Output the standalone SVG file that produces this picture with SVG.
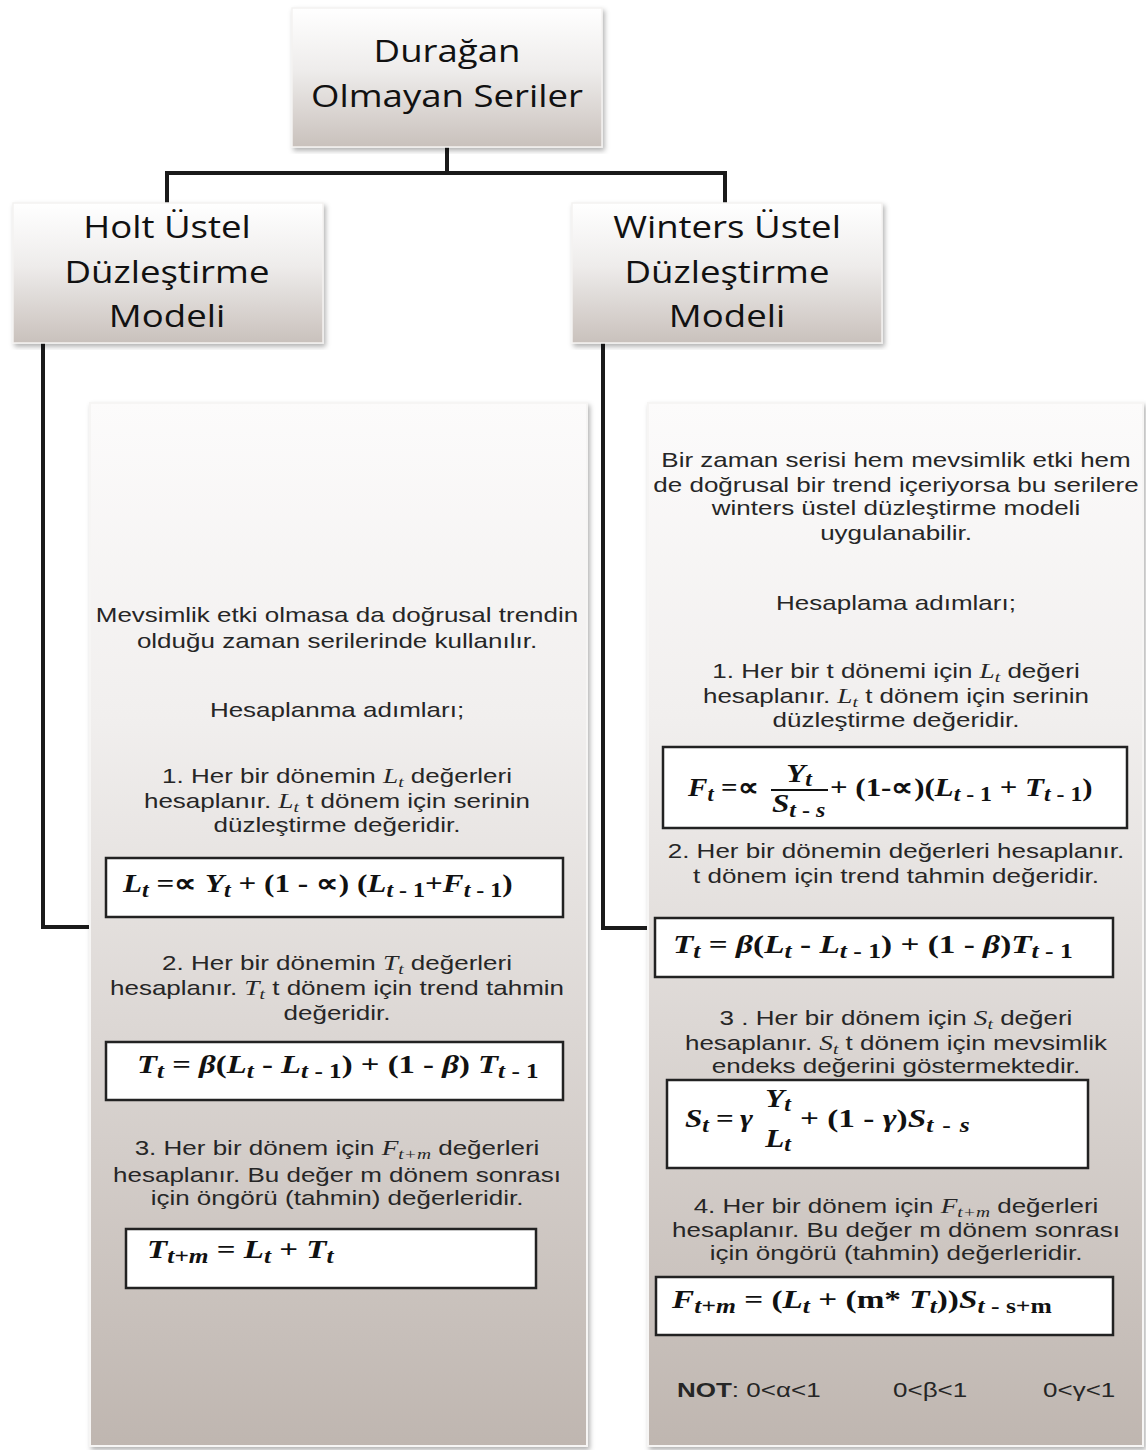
<svg xmlns="http://www.w3.org/2000/svg" width="1146" height="1450" viewBox="0 0 1146 1450">
<defs>
<linearGradient id="gBox" x1="0" y1="0" x2="0" y2="1">
<stop offset="0" stop-color="#ffffff"/>
<stop offset="0.45" stop-color="#eeeceb"/>
<stop offset="1" stop-color="#c9c1bc"/>
</linearGradient>
<linearGradient id="gPanel" x1="0" y1="0" x2="0" y2="1">
<stop offset="0" stop-color="#fcfbfb"/>
<stop offset="0.3" stop-color="#f1efee"/>
<stop offset="0.6" stop-color="#dcd7d4"/>
<stop offset="1" stop-color="#bfb6b0"/>
</linearGradient>
<filter id="sh" x="-5%" y="-5%" width="110%" height="110%">
<feDropShadow dx="2" dy="3" stdDeviation="2.5" flood-color="#000" flood-opacity="0.3"/>
</filter>
<style>
.ttl{font-family:"Open Sans","Liberation Sans",sans-serif;font-size:31px;fill:#111;text-anchor:middle}
.txt{font-family:"Liberation Sans",Arial,sans-serif;font-size:20px;fill:#262626;text-anchor:middle}
.not{font-family:"Liberation Sans",Arial,sans-serif;font-size:20px;fill:#262626}
.mi{font-family:"Liberation Serif","Times New Roman",serif;font-style:italic;font-size:21px}
.ms{font-family:"Liberation Serif","Times New Roman",serif;font-style:italic;font-size:15px}
.fm{font-family:"Liberation Serif","Times New Roman",serif;font-weight:bold;font-size:26px;fill:#111}
.bi{font-style:italic}
.sb{font-size:20px}
.conn{stroke:#1a1a1a;stroke-width:4;fill:none}
.fbox{fill:#ffffff;stroke:#222;stroke-width:2.5}
.box{fill:url(#gBox);stroke:#f4f2f1;stroke-width:1.5;filter:url(#sh)}
.panel{fill:url(#gPanel);stroke:#f6f5f4;stroke-width:2;filter:url(#sh)}
</style>
</defs>
<rect width="1146" height="1450" fill="#ffffff"/>

<g id="connectors">
<path class="conn" d="M447,147 V173 M165,173 H727 M167,173 V203 M725,173 V203"/>
<path class="conn" d="M43,343 V927 H92"/>
<path class="conn" d="M603,343 V928 H655"/>
</g>

<g id="node-top">
<rect class="box" x="292" y="8" width="310" height="139"/>
<text class="ttl" transform="translate(447,62) scale(1.18,1)">Durağan</text>
<text class="ttl" transform="translate(447,107) scale(1.18,1)">Olmayan Seriler</text>
</g>

<g id="node-holt">
<rect class="box" x="13" y="203" width="310" height="140"/>
<text class="ttl" transform="translate(167,238) scale(1.18,1)">Holt Üstel</text>
<text class="ttl" transform="translate(167,283) scale(1.18,1)">Düzleştirme</text>
<text class="ttl" transform="translate(167,327) scale(1.18,1)">Modeli</text>
</g>

<g id="node-winters">
<rect class="box" x="572" y="203" width="310" height="140"/>
<text class="ttl" transform="translate(727,238) scale(1.18,1)">Winters Üstel</text>
<text class="ttl" transform="translate(727,283) scale(1.18,1)">Düzleştirme</text>
<text class="ttl" transform="translate(727,327) scale(1.18,1)">Modeli</text>
</g>

<g id="node-holt-detail">
<rect class="panel" x="90" y="403" width="497" height="1043"/>
<text class="txt" transform="translate(337,622) scale(1.3,1)">Mevsimlik etki olmasa da doğrusal trendin</text>
<text class="txt" transform="translate(337,648) scale(1.3,1)">olduğu zaman serilerinde kullanılır.</text>
<text class="txt" transform="translate(337,717) scale(1.3,1)">Hesaplanma adımları;</text>
<text class="txt" transform="translate(337,783) scale(1.3,1)">1. Her bir dönemin <tspan class="mi">L</tspan><tspan class="ms" dy="4">t</tspan><tspan dy="-4"> değerleri</tspan></text>
<text class="txt" transform="translate(337,808) scale(1.3,1)">hesaplanır. <tspan class="mi">L</tspan><tspan class="ms" dy="4">t</tspan><tspan dy="-4"> t dönem için serinin</tspan></text>
<text class="txt" transform="translate(337,832) scale(1.3,1)">düzleştirme değeridir.</text>
<rect class="fbox" x="106" y="858" width="457" height="59"/>
<text class="fm" transform="translate(123,892) scale(1.2,1)"><tspan class="bi">L</tspan><tspan class="bi sb" dy="5">t</tspan><tspan dy="-5"> =∝ </tspan><tspan class="bi">Y</tspan><tspan class="bi sb" dy="5">t</tspan><tspan dy="-5"> + (1 - ∝) (</tspan><tspan class="bi">L</tspan><tspan class="sb" dy="5"><tspan class="bi">t</tspan> - 1</tspan><tspan dy="-5">+</tspan><tspan class="bi">F</tspan><tspan class="sb" dy="5"><tspan class="bi">t</tspan> - 1</tspan><tspan dy="-5">)</tspan></text>

<text class="txt" transform="translate(337,970) scale(1.3,1)">2. Her bir dönemin <tspan class="mi">T</tspan><tspan class="ms" dy="4">t</tspan><tspan dy="-4"> değerleri</tspan></text>
<text class="txt" transform="translate(337,995) scale(1.3,1)">hesaplanır. <tspan class="mi">T</tspan><tspan class="ms" dy="4">t</tspan><tspan dy="-4"> t dönem için trend tahmin</tspan></text>
<text class="txt" transform="translate(337,1020) scale(1.3,1)">değeridir.</text>
<rect class="fbox" x="106" y="1042" width="457" height="58"/>
<text class="fm" transform="translate(137,1073) scale(1.26,1)"><tspan class="bi">T</tspan><tspan class="bi sb" dy="5">t</tspan><tspan dy="-5"> = </tspan><tspan class="bi">β</tspan><tspan>(</tspan><tspan class="bi">L</tspan><tspan class="bi sb" dy="5">t</tspan><tspan dy="-5">  - </tspan><tspan class="bi">L</tspan><tspan class="sb" dy="5"><tspan class="bi">t</tspan> - 1</tspan><tspan dy="-5">) + (1 - </tspan><tspan class="bi">β</tspan><tspan>) </tspan><tspan class="bi">T</tspan><tspan class="sb" dy="5"><tspan class="bi">t</tspan> - 1</tspan></text>

<text class="txt" transform="translate(337,1155) scale(1.3,1)">3. Her bir dönem için <tspan class="mi">F</tspan><tspan class="ms" dy="4">t+m</tspan><tspan dy="-4"> değerleri</tspan></text>
<text class="txt" transform="translate(337,1182) scale(1.3,1)">hesaplanır. Bu değer m dönem sonrası</text>
<text class="txt" transform="translate(337,1205) scale(1.3,1)">için öngörü (tahmin) değerleridir.</text>
<rect class="fbox" x="126" y="1229" width="410" height="59"/>
<text class="fm" transform="translate(147,1258) scale(1.27,1)"><tspan class="bi">T</tspan><tspan class="bi sb" dy="5">t+m</tspan><tspan dy="-5"> = </tspan><tspan class="bi">L</tspan><tspan class="bi sb" dy="5">t</tspan><tspan dy="-5"> + </tspan><tspan class="bi">T</tspan><tspan class="bi sb" dy="5">t</tspan></text>
</g>

<g id="node-winters-detail">
<rect class="panel" x="648" y="403" width="495" height="1043"/>
<text class="txt" transform="translate(896,467) scale(1.3,1)">Bir zaman serisi hem mevsimlik etki hem</text>
<text class="txt" transform="translate(896,492) scale(1.3,1)">de doğrusal bir trend içeriyorsa bu serilere</text>
<text class="txt" transform="translate(896,515) scale(1.3,1)">winters üstel düzleştirme modeli</text>
<text class="txt" transform="translate(896,540) scale(1.3,1)">uygulanabilir.</text>
<text class="txt" transform="translate(896,610) scale(1.3,1)">Hesaplama adımları;</text>
<text class="txt" transform="translate(896,678) scale(1.3,1)">1. Her bir t dönemi için <tspan class="mi">L</tspan><tspan class="ms" dy="4">t</tspan><tspan dy="-4"> değeri</tspan></text>
<text class="txt" transform="translate(896,703) scale(1.3,1)">hesaplanır. <tspan class="mi">L</tspan><tspan class="ms" dy="4">t</tspan><tspan dy="-4"> t dönem için serinin</tspan></text>
<text class="txt" transform="translate(896,727) scale(1.3,1)">düzleştirme değeridir.</text>
<rect class="fbox" x="663" y="747" width="464" height="81"/>
<text class="fm" transform="translate(688,796) scale(1.12,1)"><tspan class="bi">F</tspan><tspan class="bi sb" dy="5">t</tspan><tspan dy="-5"> =∝</tspan></text>
<text class="fm" transform="translate(799,782) scale(1.2,1)" text-anchor="middle"><tspan class="bi">Y</tspan><tspan class="bi sb" dy="4">t</tspan></text>
<line x1="771" y1="790" x2="828" y2="790" stroke="#111" stroke-width="1.8"/>
<text class="fm" transform="translate(772,812) scale(1.2,1)"><tspan class="bi">S</tspan><tspan class="sb" dy="5"><tspan class="bi">t</tspan> - <tspan class="bi">s</tspan></tspan></text>
<text class="fm" transform="translate(830,796) scale(1.19,1)"><tspan> + (1-∝)(</tspan><tspan class="bi">L</tspan><tspan class="sb" dy="5"><tspan class="bi">t</tspan> - 1</tspan><tspan dy="-5"> + </tspan><tspan class="bi">T</tspan><tspan class="sb" dy="5"><tspan class="bi">t</tspan> - 1</tspan><tspan dy="-5">)</tspan></text>

<text class="txt" transform="translate(896,858) scale(1.3,1)">2. Her bir dönemin  değerleri hesaplanır.</text>
<text class="txt" transform="translate(896,883) scale(1.3,1)">t dönem için trend tahmin değeridir.</text>
<rect class="fbox" x="655" y="918" width="458" height="59"/>
<text class="fm" transform="translate(673,953) scale(1.28,1)"><tspan class="bi">T</tspan><tspan class="bi sb" dy="5">t</tspan><tspan dy="-5"> = </tspan><tspan class="bi">β</tspan><tspan>(</tspan><tspan class="bi">L</tspan><tspan class="bi sb" dy="5">t</tspan><tspan dy="-5">  - </tspan><tspan class="bi">L</tspan><tspan class="sb" dy="5"><tspan class="bi">t</tspan> - 1</tspan><tspan dy="-5">) + (1 -  </tspan><tspan class="bi">β</tspan><tspan>)</tspan><tspan class="bi">T</tspan><tspan class="sb" dy="5"><tspan class="bi">t</tspan> - 1</tspan></text>

<text class="txt" transform="translate(896,1025) scale(1.3,1)">3 . Her bir dönem için <tspan class="mi">S</tspan><tspan class="ms" dy="4">t</tspan><tspan dy="-4"> değeri</tspan></text>
<text class="txt" transform="translate(896,1050) scale(1.3,1)">hesaplanır. <tspan class="mi">S</tspan><tspan class="ms" dy="4">t</tspan><tspan dy="-4"> t dönem için mevsimlik</tspan></text>
<text class="txt" transform="translate(896,1073) scale(1.3,1)">endeks değerini göstermektedir.</text>
<rect class="fbox" x="667" y="1080" width="421" height="88"/>
<text class="fm" transform="translate(685,1127) scale(1.2,1)"><tspan class="bi">S</tspan><tspan class="bi sb" dy="5">t</tspan></text>
<text class="fm" transform="translate(716,1127) scale(1.2,1)">=</text>
<text class="fm" transform="translate(740,1127) scale(1.2,1)"><tspan class="bi">γ</tspan></text>
<text class="fm" transform="translate(778,1107) scale(1.2,1)" text-anchor="middle"><tspan class="bi">Y</tspan><tspan class="bi sb" dy="4">t</tspan></text>
<text class="fm" transform="translate(778,1147) scale(1.2,1)" text-anchor="middle"><tspan class="bi">L</tspan><tspan class="bi sb" dy="4">t</tspan></text>
<text class="fm" transform="translate(800,1127) scale(1.28,1)"><tspan>+ (1 -  </tspan><tspan class="bi">γ</tspan><tspan>)</tspan><tspan class="bi">S</tspan><tspan class="sb" dy="5" word-spacing="2"><tspan class="bi">t</tspan> - <tspan class="bi">s</tspan></tspan></text>

<text class="txt" transform="translate(896,1213) scale(1.3,1)">4. Her bir dönem için <tspan class="mi">F</tspan><tspan class="ms" dy="4">t+m</tspan><tspan dy="-4"> değerleri</tspan></text>
<text class="txt" transform="translate(896,1237) scale(1.3,1)">hesaplanır. Bu değer m dönem sonrası</text>
<text class="txt" transform="translate(896,1260) scale(1.3,1)">için öngörü (tahmin) değerleridir.</text>
<rect class="fbox" x="656" y="1277" width="457" height="58"/>
<text class="fm" transform="translate(672,1308) scale(1.28,1)"><tspan class="bi">F</tspan><tspan class="bi sb" dy="5">t+m</tspan><tspan dy="-5"> = (</tspan><tspan class="bi">L</tspan><tspan class="bi sb" dy="5">t</tspan><tspan dy="-5"> + (m* </tspan><tspan class="bi">T</tspan><tspan class="bi sb" dy="5">t</tspan><tspan dy="-5">))</tspan><tspan class="bi">S</tspan><tspan class="sb" dy="5"><tspan class="bi">t</tspan> - s+m</tspan></text>

<text class="not" transform="translate(677,1397) scale(1.3,1)"><tspan font-weight="bold">NOT</tspan>: 0&lt;α&lt;1</text>
<text class="not" transform="translate(893,1397) scale(1.3,1)">0&lt;β&lt;1</text>
<text class="not" transform="translate(1043,1397) scale(1.3,1)">0&lt;γ&lt;1</text>
</g>
</svg>
